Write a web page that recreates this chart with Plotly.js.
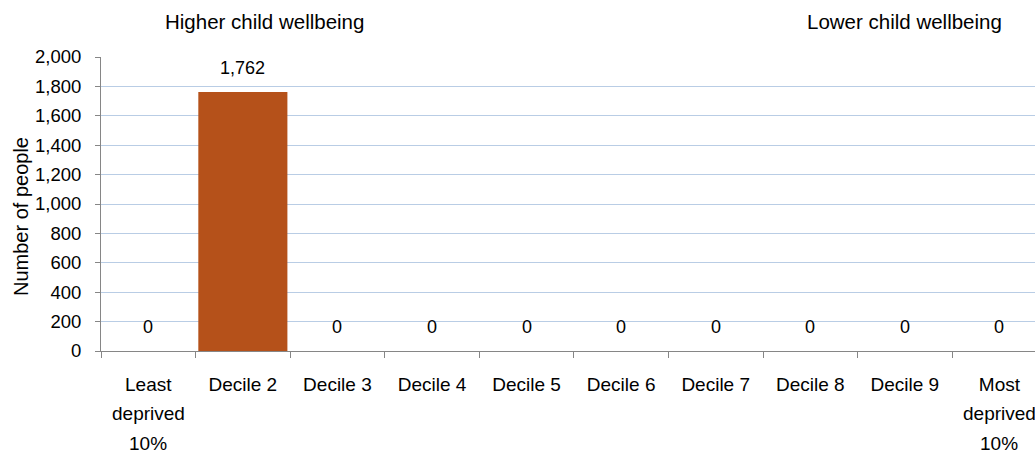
<!DOCTYPE html>
<html>
<head>
<meta charset="utf-8">
<script src="https://cdn.plot.ly/plotly-3.0.1.min.js"></script>
<style>html,body{margin:0;padding:0;background:#fff;}#chart{width:1035px;height:454px;}</style>
</head>
<body>
<div id="chart"></div>
<script>
// Data
const categories = ["Least deprived 10%", "Decile 2", "Decile 3", "Decile 4", "Decile 5", "Decile 6", "Decile 7", "Decile 8", "Decile 9", "Most deprived 10%"];
const tickFirstLine = ["Least", "Decile 2", "Decile 3", "Decile 4", "Decile 5", "Decile 6", "Decile 7", "Decile 8", "Decile 9", "Most"];
const extraLine2 = ["deprived", "", "", "", "", "", "", "", "", "deprived"];
const extraLine3 = ["10%", "", "", "", "", "", "", "", "", "10%"];
const values = [0, 1762, 0, 0, 0, 0, 0, 0, 0, 0];
const yTicks = [0, 200, 400, 600, 800, 1000, 1200, 1400, 1600, 1800, 2000];

const FONT = "Liberation Sans, Arial, sans-serif";
const TXT = "#000000";

const trace = {
  type: "bar",
  x: categories,
  y: values,
  marker: {color: "#B5511A", line: {width: 0}},
  hoverinfo: "x+y"
};

const annotations = [];
categories.forEach((c, i) => {
  annotations.push({
    xref: "x", yref: "y", x: c, y: values[i],
    text: values[i].toLocaleString("en-US"),
    showarrow: false, yanchor: "middle", yshift: 24,
    font: {family: FONT, size: 18, color: TXT}
  });
  if (extraLine2[i]) {
    annotations.push({
      xref: "x", yref: "paper", x: c, y: -0.214,
      text: extraLine2[i], showarrow: false, yanchor: "middle",
      font: {family: FONT, size: 19, color: TXT}
    });
  }
  if (extraLine3[i]) {
    annotations.push({
      xref: "x", yref: "paper", x: c, y: -0.313,
      text: extraLine3[i], showarrow: false, yanchor: "middle",
      font: {family: FONT, size: 19, color: TXT}
    });
  }
});
annotations.push({
  xref: "paper", yref: "paper", x: (163 - 101) / 934, y: 1.122,
  xanchor: "left", yanchor: "middle", showarrow: false,
  text: "Higher child wellbeing", font: {family: FONT, size: 20.5, color: TXT}
});
annotations.push({
  xref: "paper", yref: "paper", x: (1004 - 101) / 934, y: 1.122,
  xanchor: "right", yanchor: "middle", showarrow: false,
  text: "Lower child wellbeing", font: {family: FONT, size: 20.5, color: TXT}
});
// y axis title placed as rotated text
annotations.push({
  xref: "paper", yref: "paper", x: (21 - 101) / 934, y: (351 - 217) / 294,
  xanchor: "center", yanchor: "middle", showarrow: false, textangle: -90,
  text: "Number of people", font: {family: FONT, size: 20, color: TXT}
});

const layout = {
  width: 1035, height: 454,
  margin: {l: 101, r: 0, t: 57, b: 103},
  paper_bgcolor: "#ffffff", plot_bgcolor: "#ffffff",
  font: {family: FONT, size: 18, color: TXT},
  bargap: 0.058,
  showlegend: false,
  xaxis: {
    type: "category",
    range: [-0.5, 9.376],
    tickmode: "array",
    tickvals: categories,
    ticktext: tickFirstLine,
    tickson: "boundaries",
    ticks: "outside", ticklen: 6, tickcolor: "#868686", tickwidth: 1,
    ticklabelstandoff: 16,
    showline: true, linecolor: "#868686", linewidth: 1,
    showgrid: false, zeroline: false,
    tickfont: {family: FONT, size: 19, color: TXT},
    automargin: false
  },
  yaxis: {
    range: [0, 2000],
    tickmode: "array",
    tickvals: yTicks,
    tickformat: ",",
    ticks: "outside", ticklen: 5, tickcolor: "#868686",
    ticklabelstandoff: 10,
    showline: true, linecolor: "#868686", linewidth: 1,
    showgrid: true, gridcolor: "#B9CDE5", gridwidth: 1,
    zeroline: false,
    tickfont: {family: FONT, size: 18.5, color: TXT},
    automargin: false
  },
  annotations: annotations
};

Plotly.newPlot("chart", [trace], layout, {displayModeBar: false, staticPlot: true});
</script>
</body>
</html>
